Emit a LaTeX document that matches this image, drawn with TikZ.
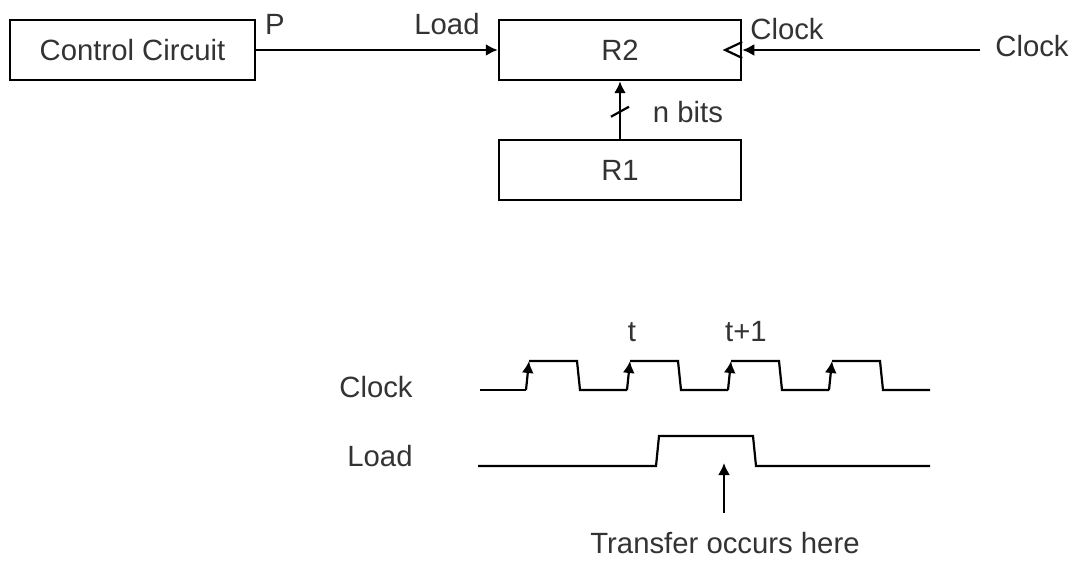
\documentclass[tikz,border=0pt]{standalone}
\usepackage{fontspec}
\setmainfont{Liberation Sans}
\usetikzlibrary{arrows.meta}
\begin{document}
\begin{tikzpicture}[x=1pt,y=-1pt,
        font=\fontsize{29.3}{35}\selectfont,
        reg/.style={draw, line width=2.5pt, minimum height=60pt, inner sep=0pt, text=black!80},
        lbl/.style={anchor=base, inner sep=0pt, text=black!80},
        arr/.style={line width=2.2pt, -{Latex[length=12pt,width=12pt]}},
        wave/.style={line width=2.2pt}]
            \useasboundingbox (0,0) rectangle (1074,561);

            \node[reg, minimum width=245pt] (ctrl) at (132.5,50) {Control Circuit};
            \node[reg, minimum width=242pt] (R2) at (620,50) {R2};
            \node[reg, minimum width=242pt] (R1) at (620,170) {R1};

            \node[lbl] (p) at (275,35) {P};
            \node[lbl] (loadlbl) at (447,35) {Load};
            \node[lbl] (clklbl) at (787,40) {Clock};
            \node[lbl] (clkin) at (1032,57) {Clock};
            \node[lbl] (nbits) at (688,123) {n bits};

            \draw[arr] (ctrl.east) -- (R2.west);
            \draw[arr] ([xshift=-15pt]clkin.west |- R2.east) -- (R2.east);
            \draw[line width=2.2pt] ([yshift=8pt]R2.east) -- ([xshift=-17pt]R2.east) -- ([yshift=-8pt]R2.east);
            \draw[arr] (R1.north) -- (R2.south);
            \path (R1.north) -- (R2.south) coordinate[pos=0.47] (slash);
            \draw[line width=2.2pt] ([shift={(-9pt,-5pt)}]slash) -- ([shift={(9pt,5pt)}]slash);

            \node[lbl] (clkname) at (376,397) {Clock};
            \node[lbl] (loadname) at (380,466) {Load};
            \node[lbl] (tlbl) at (632,342) {t};
            \node[lbl] (tnext) at (746,342) {t+1};

            \draw[wave] (480,390) -- (526,390);
            \foreach \x in {526,627,728,829} {
                    \draw[arr] (\x,390) -- (\x+3,361);
                    \draw[wave] (\x+3,361) -- (\x+51,361) -- (\x+54,390) -- (\x+101,390);
                }
            \draw[wave] (478,466) -- (656,466) -- (659,436) -- (753,436) -- (756,466) -- (930,466);

            \node[lbl] (xfer) at (725,553) {Transfer occurs here};
            \coordinate (xfertip) at (724,463);
            \draw[arr] ([yshift=19pt]xfer.north -| xfertip) -- (xfertip);
        \end{tikzpicture}
\end{document}
